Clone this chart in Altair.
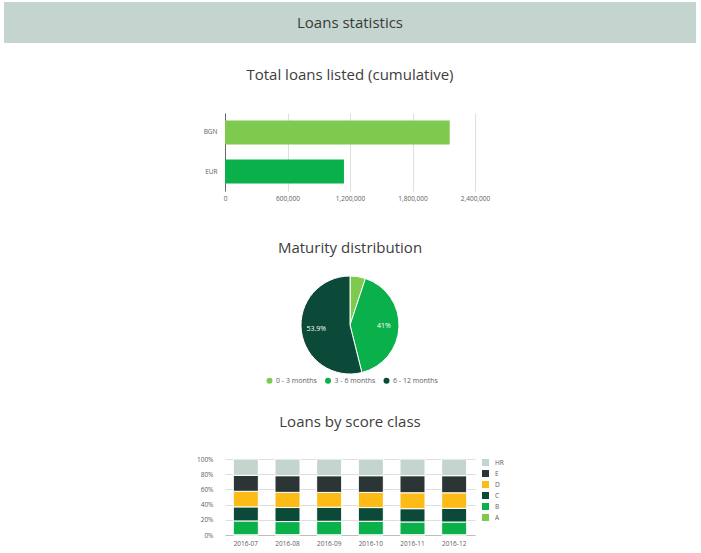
import altair as alt
import pandas as pd

FONT = "Open Sans"
TITLE_COLOR = "#3d3d3d"
LABEL_COLOR = "#606060"

# ---- data ----
header_title = ["Loans statistics"]

currencies = ["BGN", "EUR"]
loans_total = [2157000, 1142000]
currency_colors = ["#7dca4f", "#0ab14b"]

maturity = ["0 - 3 months", "3 - 6 months", "6 - 12 months"]
maturity_share = [5.1, 41.0, 53.9]
maturity_labels = ["", "41%", "53.9%"]
maturity_colors = ["#7dca4f", "#0ab14b", "#0b4a38"]

months = ["2016-07", "2016-08", "2016-09", "2016-10", "2016-11", "2016-12"]
score_classes = ["A", "B", "C", "D", "E", "HR"]
share_A = [0.3, 0.4, 0.3, 0.3, 0.4, 0.3]
share_B = [18.2, 17.3, 17.8, 17.8, 16.8, 16.8]
share_C = [18.5, 18.5, 18.5, 18.0, 17.5, 18.0]
share_D = [20.5, 20.0, 19.5, 20.0, 21.0, 20.5]
share_E = [21.0, 22.0, 22.0, 22.0, 22.5, 22.5]
share_HR = [21.5, 22.0, 22.0, 22.0, 22.0, 22.0]
legend_order = ["HR", "E", "D", "C", "B", "A"]
legend_colors = ["#c4d4cf", "#2c3535", "#fdbb17", "#0b4a38", "#0ab14b", "#7dca4f"]

# ---- tables ----
df_header = pd.DataFrame({"t": header_title})
df_cur = pd.DataFrame({"currency": currencies, "total": loans_total})
df_mat = pd.DataFrame({"maturity": maturity, "share": maturity_share,
                       "label": maturity_labels, "idx": list(range(len(maturity)))})
series = {"A": share_A, "B": share_B, "C": share_C, "D": share_D, "E": share_E, "HR": share_HR}
rows = []
for rank, cls in enumerate(score_classes):
    for m, v in zip(months, series[cls]):
        rows.append({"month": m, "cls": cls, "value": v, "rank": rank})
df_score = pd.DataFrame(rows)

def ttl(text, offset):
    return alt.TitleParams(text, offset=offset, fontSize=15, font=FONT, fontWeight="normal",
                           color=TITLE_COLOR, anchor="middle", frame="group")

# ---- header ----
header = alt.Chart(df_header).mark_text(
    font=FONT, fontSize=15, color="#3a3a3a", baseline="middle", align="center"
).encode(
    text="t:N", x=alt.value(346), y=alt.value(21)
).properties(width=692, height=41,
             view=alt.ViewBackground(fill="#c4d5cf", strokeWidth=0))

# ---- bar chart ----
bars = alt.Chart(df_cur).mark_bar().encode(
    y=alt.Y("currency:N", sort=currencies, title=None,
            scale=alt.Scale(paddingInner=0.385, paddingOuter=0.19),
            axis=alt.Axis(ticks=False, labelPadding=8, domainColor="#666666", grid=False)),
    x=alt.X("total:Q", title=None, scale=alt.Scale(domain=[0, 2400000], nice=False),
            axis=alt.Axis(values=[0, 600000, 1200000, 1800000, 2400000], format=",.0f",
                          grid=True, gridColor="#dedede", domain=False, ticks=False,
                          labelPadding=4, labelFlush=False)),
    color=alt.Color("currency:N", scale=alt.Scale(domain=currencies, range=currency_colors), legend=None),
).properties(width=250, height=78, title=ttl("Total loans listed (cumulative)", 30))

# ---- pie ----
pie_base = alt.Chart(df_mat).encode(
    theta=alt.Theta("share:Q", stack=True),
    order=alt.Order("idx:Q"),
)
arcs = pie_base.mark_arc(outerRadius=49, stroke="white", strokeWidth=1).encode(
    color=alt.Color("maturity:N", scale=alt.Scale(domain=maturity, range=maturity_colors),
                    legend=alt.Legend(orient="none", legendX=41, legendY=116, direction="horizontal",
                                      title=None, symbolType="circle", symbolSize=36,
                                      symbolStrokeWidth=0,
                                      labelFontSize=7, labelColor=LABEL_COLOR, columnPadding=7.5,
                                      labelOffset=3, labelFont=FONT))
)
pie_text = pie_base.mark_text(radius=34, color="white", fontSize=7, font=FONT).encode(text="label:N")
pie = alt.layer(arcs, pie_text).properties(width=250, height=128, title=ttl("Maturity distribution", 5))

# ---- stacked ----
stack = alt.Chart(df_score).mark_bar(stroke="white", strokeWidth=1).encode(
    x=alt.X("month:N", sort=months, title=None,
            scale=alt.Scale(paddingInner=0.4, paddingOuter=0.2),
            axis=alt.Axis(labelAngle=0, ticks=False, domainColor="#bdbdbd", labelPadding=5)),
    y=alt.Y("value:Q", stack="normalize", title=None,
            axis=alt.Axis(format=".0%", values=[0, 0.2, 0.4, 0.6, 0.8, 1.0], domain=False,
                          ticks=False, grid=True, gridColor="#dedede", labelPadding=12)),
    color=alt.Color("cls:N", scale=alt.Scale(domain=legend_order, range=legend_colors),
                    legend=alt.Legend(title=None, orient="right", offset=7, symbolType="square",
                                      symbolSize=49, symbolStrokeWidth=0,
                                      labelFontSize=6.5, labelColor=LABEL_COLOR,
                                      rowPadding=4, labelOffset=6, labelFont=FONT)),
    order=alt.Order("rank:Q", sort="ascending"),
).properties(width=250, height=76, title=ttl("Loans by score class", 26))

chart = alt.vconcat(header, bars, pie, stack, spacing=70, bounds="flush", center=True).resolve_scale(
    color="independent"
).resolve_legend(color="independent").properties(
    padding={"left": 4, "top": 2, "right": 4, "bottom": 4}
).configure_view(strokeWidth=0).configure_axis(
    labelFont=FONT, labelColor=LABEL_COLOR, labelFontSize=6.5
)

chart.save("out.html", embed_options={"renderer": "svg", "actions": False})
